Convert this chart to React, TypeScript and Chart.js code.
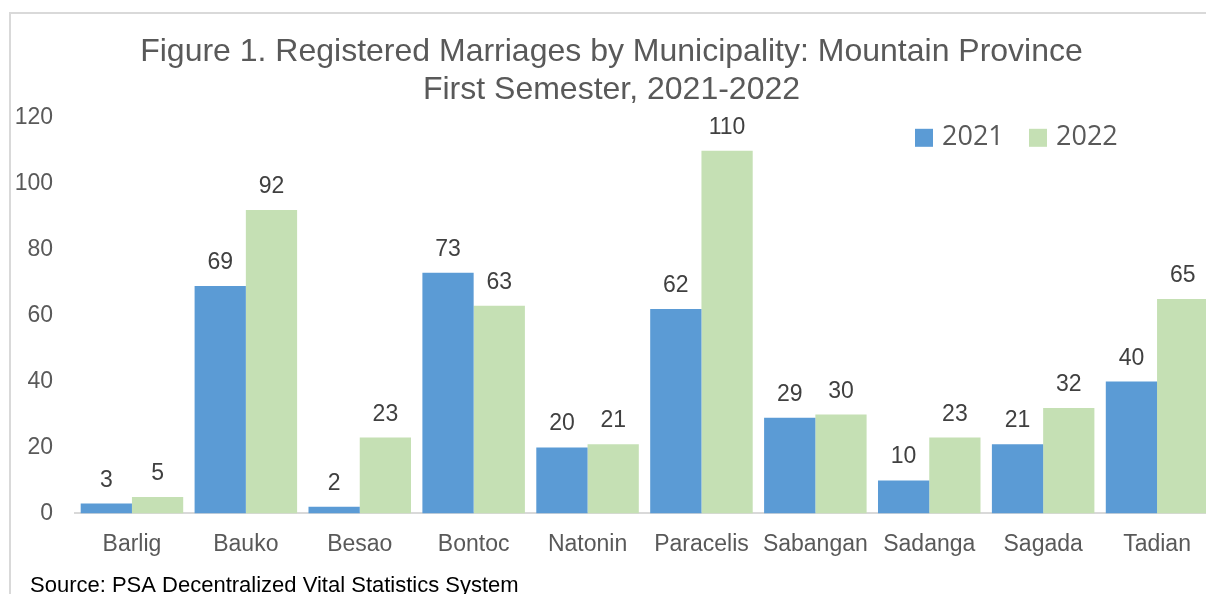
import { useEffect, useRef } from "react";
import { Chart, registerables } from "chart.js";

Chart.register(...registerables);

const categories = ["Barlig", "Bauko", "Besao", "Bontoc", "Natonin", "Paracelis", "Sabangan", "Sadanga", "Sagada", "Tadian"];
const values2021 = [3, 69, 2, 73, 20, 62, 29, 10, 21, 40];
const values2022 = [5, 92, 23, 63, 21, 110, 30, 23, 32, 65];
const seriesLabels = ["2021", "2022"];
const seriesColors = ["#5B9BD5", "#C5E0B4"];
const yMin = 0;
const yMax = 120;
const yStep = 20;
const titleLines = ["Figure 1. Registered Marriages by Municipality: Mountain Province", "First Semester, 2021-2022"];
const sourceText = "Source: PSA Decentralized Vital Statistics System";

const FONT = "'Liberation Sans', Arial, sans-serif";
const LEGEND_FONT = "'Open Sans', 'Noto Sans', sans-serif";

const extrasPlugin = {
  id: "extras",
  afterDatasetsDraw(chart: any) {
    const ctx = chart.ctx;
    ctx.save();
    // data labels
    ctx.font = `23px ${FONT}`;
    ctx.fillStyle = "#404040";
    ctx.textAlign = "center";
    ctx.textBaseline = "alphabetic";
    chart.data.datasets.forEach((ds: any, di: number) => {
      const meta = chart.getDatasetMeta(di);
      meta.data.forEach((bar: any, i: number) => {
        ctx.fillText(String(ds.data[i]), bar.x, bar.y - 17);
      });
    });
    // legend
    const area = chart.chartArea;
    const legendTop = area.top + 11;
    let x = area.left + 840;
    ctx.font = `27px ${LEGEND_FONT}`;
    ctx.textAlign = "left";
    ctx.textBaseline = "middle";
    seriesLabels.forEach((lbl, i) => {
      ctx.fillStyle = seriesColors[i];
      ctx.fillRect(x, legendTop, 18, 18);
      ctx.fillStyle = "#595959";
      ctx.fillText(lbl, x + 27, legendTop + 9);
      x += 114;
    });
    // source
    ctx.font = `22px ${FONT}`;
    ctx.fillStyle = "#000000";
    ctx.textBaseline = "alphabetic";
    ctx.fillText(sourceText, 30, chart.height - 8);
    ctx.restore();
  },
};

export default function App() {
  const ref = useRef<HTMLCanvasElement>(null);
  useEffect(() => {
    if (!ref.current) return;
    const chart = new Chart(ref.current, {
      type: "bar",
      data: {
        labels: categories,
        datasets: [
          { label: seriesLabels[0], data: values2021, backgroundColor: seriesColors[0], categoryPercentage: 0.9, barPercentage: 1.0 },
          { label: seriesLabels[1], data: values2022, backgroundColor: seriesColors[1], categoryPercentage: 0.9, barPercentage: 1.0 },
        ],
      },
      options: {
        responsive: false,
        animation: false,
        layout: { padding: { left: 9, right: 16, top: 0, bottom: 24 } },
        scales: {
          x: {
            offset: true,
            grid: { display: false, drawTicks: false },
            border: { display: true, color: "#d9d9d9", width: 2 },
            ticks: { font: { family: FONT, size: 23 }, color: "#595959", padding: 17.5, autoSkip: false, maxRotation: 0 },
          },
          y: {
            min: yMin,
            max: yMax,
            grid: { display: false, drawTicks: false },
            border: { display: false },
            ticks: { stepSize: yStep, font: { family: FONT, size: 23 }, color: "#595959", padding: 22 },
            afterFit: (s: any) => { s.width = 66; },
          },
        },
        plugins: {
          title: {
            display: true,
            text: titleLines,
            color: "#595959",
            font: { family: FONT, size: 32, weight: "normal", lineHeight: 1.2 },
            padding: { top: 33, bottom: 8 },
          },
          legend: { display: false },
          tooltip: { enabled: false },
        },
      },
      plugins: [extrasPlugin],
    });
    return () => chart.destroy();
  }, []);

  return (
    <div style={{ position: "fixed", left: 0, top: 0, width: 1206, height: 594, overflow: "hidden", background: "#ffffff" }}>
      <div style={{ position: "absolute", left: 9, top: 12, width: 1300, height: 700, border: "2px solid #d9d9d9", boxSizing: "border-box" }} />
      <canvas ref={ref} width={1230} height={600} style={{ position: "absolute", left: 0, top: 0, width: 1230, height: 600 }} />
    </div>
  );
}
